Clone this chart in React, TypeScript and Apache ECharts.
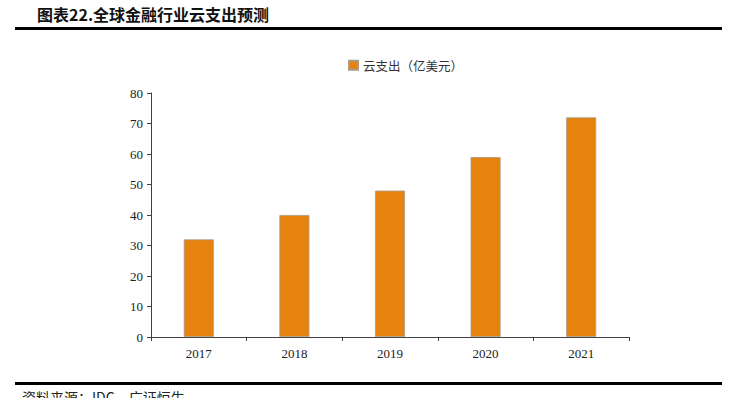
import React, { useEffect, useRef } from "react";
import * as echarts from "echarts";

const categories = ["2017", "2018", "2019", "2020", "2021"];
const cloudSpend = [32, 40, 48, 59, 72];
const seriesName = "云支出（亿美元）";
const titleText = "图表22.全球金融行业云支出预测";
const sourceText = "资料来源：IDC，广证恒生";

export default function App() {
  const ref = useRef<HTMLDivElement>(null);
  useEffect(() => {
    if (!ref.current) return;
    const chart = echarts.init(ref.current, null, { renderer: "svg" });
    chart.setOption({
      animation: false,
      backgroundColor: "#ffffff",
      graphic: [
        {
          type: "text",
          left: 37,
          top: 6,
          style: {
            text: titleText,
            font: "bold 16px 'Noto Sans CJK SC', 'Liberation Serif', serif",
            fill: "#111",
          },
        },
        {
          type: "rect",
          shape: { x: 15, y: 27, width: 707, height: 3 },
          style: { fill: "#000" },
        },
        {
          type: "rect",
          shape: { x: 15, y: 382, width: 707, height: 3 },
          style: { fill: "#000" },
        },
        {
          type: "text",
          left: 22,
          top: 390,
          style: {
            text: sourceText,
            font: "14px 'Noto Sans CJK SC', 'Liberation Serif', serif",
            fill: "#222",
          },
        },
      ],
      legend: {
        data: [seriesName],
        top: 54,
        left: 343,
        itemWidth: 9,
        itemHeight: 9,
        itemGap: 6,
        icon: "rect",
        textStyle: {
          fontFamily: "'Noto Sans CJK SC', serif",
          fontSize: 12.5,
          color: "#333",
        },
      },
      grid: { left: 151, right: 108, top: 93, bottom: 61 },
      xAxis: {
        type: "category",
        data: categories,
        axisLine: { lineStyle: { color: "#404040", width: 1 } },
        axisTick: { show: true, alignWithLabel: false, length: 4, lineStyle: { color: "#404040" } },
        axisLabel: {
          fontFamily: "'Liberation Serif', serif",
          fontSize: 13,
          color: "#222",
          margin: 10,
        },
      },
      yAxis: {
        type: "value",
        min: 0,
        max: 80,
        interval: 10,
        splitLine: { show: false },
        axisLine: { show: true, lineStyle: { color: "#404040", width: 1 } },
        axisTick: { show: true, length: 4, lineStyle: { color: "#404040" } },
        axisLabel: {
          fontFamily: "'Liberation Serif', serif",
          fontSize: 13,
          color: "#222",
          margin: 8,
        },
      },
      series: [
        {
          name: seriesName,
          type: "bar",
          data: cloudSpend,
          barWidth: 30,
          itemStyle: {
            color: "#E6820E",
            borderColor: "#A89A8C",
            borderWidth: 0.8,
          },
        },
      ],
    });
    return () => chart.dispose();
  }, []);
  return (
    <div
      ref={ref}
      style={{ position: "fixed", left: 0, top: 0, width: 737, height: 398 }}
    />
  );
}
